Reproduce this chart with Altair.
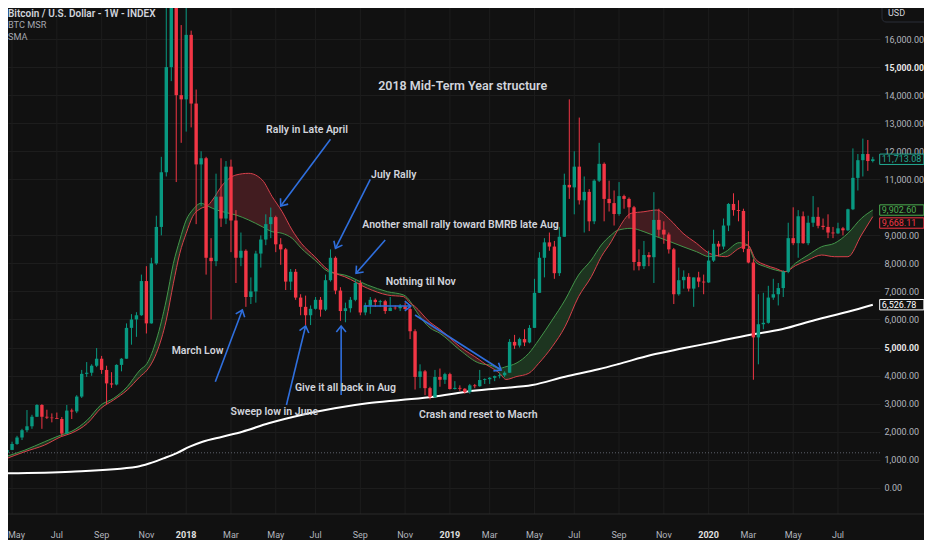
import math
import altair as alt
import pandas as pd

# ---------------- data ----------------
FIRST_WEEK = "2017-04-24"   # weekly candles, Monday open

opens = (
    [1250, 1348, 1560, 1790, 2050, 2190, 2530, 2950, 2530, 2500, 2480, 2450, 1930, 2750, 2720, 3250, 4060, 4100,
     4350, 4600, 4200, 3720, 3680, 4380, 4600, 5700, 6000, 6150, 7370, 5860, 8000, 9300, 11250, 15000, 19100, 14000]
    + [13850, 16150, 13700, 11530, 11750, 8200, 8080, 10380, 9600, 11450, 9530, 8200, 8450,
       6800, 7000, 8350, 8850, 9400, 9650, 8680, 8500, 7350, 7700, 6780, 6450, 6150,
       6380, 6700, 6350, 7400, 8200, 7030, 6300, 6400, 6700, 7300, 6250, 6500, 6700,
       6620, 6650, 6300, 6420, 6400, 6470, 6370, 5580, 3950, 4150, 3550, 3230, 3950, 3850]
    + [4050, 3520, 3560, 3530, 3410, 3650, 3620, 3840, 3870, 3920, 3980, 4010,
       4100, 5200, 5070, 5300, 5180, 5700, 6950, 8200, 8750, 8600, 7650, 8950, 10800,
       10710, 11450, 10250, 10550, 9500, 10950, 11550, 10300, 10150, 9760, 10400, 10300, 10000, 8050,
       7900, 8300, 8220, 9550, 9200, 9030, 8500, 6900, 7400, 7520, 7100, 7500, 7350]
    + [7320, 8100, 8700, 8600, 9350, 10120, 9900, 9870, 8520, 8030, 5360, 5830, 5880,
       6780, 6900, 7120, 7700, 8900, 8720, 9680, 8720, 9450, 9660, 9340, 9300, 9100,
       9070, 9250, 9180, 9930, 11050, 11680, 11900, 11650]
)
highs = (
    [1350, 1640, 1850, 2100, 2770, 2600, 2980, 2980, 2780, 2650, 2680, 2520, 2950, 2820, 3300, 4200, 4480, 4400,
     4980, 4700, 4350, 4120, 4400, 4620, 5860, 6190, 6260, 7600, 7900, 8200, 9700, 11800, 17200, 19800, 19200, 16500]
    + [17250, 16300, 14200, 12000, 11800, 8900, 11200, 11750, 11650, 11700, 9900, 9100, 8500,
       7500, 8450, 9000, 9750, 9990, 9700, 8900, 8550, 7800, 7800, 6900, 6850, 6500,
       6800, 6800, 7600, 8500, 8250, 7150, 6600, 6800, 7400, 7400, 6600, 6800, 6750,
       6700, 6700, 6800, 6500, 6550, 6600, 6500, 5650, 4400, 4200, 3600, 4200, 4250, 4100]
    + [4100, 3800, 3650, 3550, 3700, 3700, 4200, 3900, 3950, 4000, 4100, 4150,
       5300, 5450, 5350, 5650, 5800, 7450, 8400, 8900, 9100, 8800, 9300, 11200, 13850,
       12000, 13200, 11100, 10650, 11000, 12300, 11600, 10950, 10600, 10900, 10450, 10350, 10050, 8500,
       8800, 8400, 10540, 9950, 9500, 9100, 8550, 7850, 7750, 7650, 7500, 7700, 7600]
    + [8450, 9200, 8800, 9600, 10150, 10500, 10250, 9950, 9150, 8150, 6900, 6950, 7200,
       7450, 7300, 7750, 9450, 10000, 9900, 9850, 9700, 10400, 10000, 9600, 9750, 9300,
       9450, 9300, 9950, 12100, 11900, 12450, 12400, 11800]
)
lows = (
    [1200, 1340, 1530, 1700, 1980, 2100, 2520, 2100, 2450, 2330, 2470, 1840, 1930, 2450, 2660, 3200, 3950, 3990,
     4300, 4060, 2980, 3560, 3650, 4150, 4600, 5100, 5380, 6130, 5500, 5850, 7950, 9000, 11100, 14500, 10900, 12300]
    + [12700, 12850, 9400, 10050, 7600, 6000, 7900, 9300, 9400, 8400, 7300, 7900, 6450,
       6550, 6600, 7850, 8650, 8900, 8400, 7950, 7050, 7050, 6700, 6150, 5800, 5800,
       6350, 6100, 6300, 7350, 6900, 5950, 5900, 6250, 6650, 6150, 6150, 6200, 6450,
       6450, 6200, 6300, 6350, 6300, 6350, 5300, 3500, 3550, 3300, 3150, 3200, 3600, 3700]
    + [3500, 3500, 3450, 3350, 3350, 3550, 3600, 3700, 3700, 3800, 3900, 3950,
       4100, 4950, 5000, 5050, 5150, 5700, 6950, 7500, 8450, 7450, 7550, 8950, 10300,
       9750, 10100, 9100, 9150, 9400, 10900, 9500, 9850, 9350, 9700, 9950, 9600, 7750, 7750,
       7800, 7900, 7300, 8950, 8700, 8350, 6550, 6850, 7100, 7000, 6450, 7150, 6900]
    + [7300, 8050, 8250, 8500, 9150, 9700, 9500, 8400, 8000, 3850, 4400, 5650, 5850,
       6700, 6500, 6800, 7650, 8650, 8200, 8700, 8650, 9300, 9250, 9200, 8900, 8900,
       9050, 9000, 9150, 9900, 10600, 11100, 11300, 11600]
)
closes = (
    [1348, 1560, 1790, 2050, 2190, 2530, 2950, 2530, 2500, 2480, 2450, 1930, 2750, 2720, 3250, 4060, 4100, 4350,
     4600, 4200, 3720, 3680, 4380, 4600, 5700, 6000, 6150, 7370, 5860, 8000, 9300, 11250, 15000, 19100, 14000, 13850]
    + [16150, 13700, 11530, 11750, 8200, 8080, 10380, 9600, 11450, 9530, 8200, 8450, 6800,
       7000, 8350, 8850, 9400, 9650, 8680, 8500, 7350, 7700, 6780, 6450, 6150, 6380,
       6700, 6350, 7400, 8200, 7030, 6300, 6400, 6700, 7300, 6250, 6500, 6700, 6620,
       6650, 6300, 6420, 6400, 6470, 6370, 5580, 3950, 4150, 3550, 3230, 3950, 3850, 4050]
    + [3520, 3560, 3530, 3410, 3650, 3620, 3840, 3870, 3920, 3980, 4010, 4100,
       5200, 5070, 5300, 5180, 5700, 6950, 8200, 8750, 8600, 7650, 8950, 10800, 10710,
       11450, 10250, 10550, 9500, 10950, 11550, 10300, 10150, 9760, 10400, 10300, 10000, 8050, 7900,
       8300, 8220, 9550, 9200, 9030, 8500, 6900, 7400, 7520, 7100, 7500, 7350, 7320]
    + [8100, 8700, 8600, 9350, 10120, 9900, 9870, 8520, 8030, 5360, 5830, 5880, 6780,
       6900, 7120, 7700, 8900, 8720, 9680, 8720, 9450, 9660, 9340, 9300, 9100, 9070,
       9250, 9180, 9930, 11050, 11680, 11900, 11650, 11713.08]
)

# BTC MSR band (green = 21W EMA, red = 20W SMA)
band_dates = [
    "2017-04-21", "2017-05-19", "2017-06-16", "2017-07-09", "2017-07-23", "2017-08-15", "2017-09-03",
    "2017-09-21", "2017-10-10", "2017-10-28", "2017-11-07", "2017-11-20", "2017-12-04", "2017-12-14",
    "2017-12-23", "2018-01-01", "2018-01-10", "2018-01-22", "2018-01-31", "2018-02-07", "2018-02-21",
    "2018-03-12", "2018-03-30", "2018-04-18", "2018-05-02", "2018-05-16", "2018-05-30", "2018-06-12",
    "2018-07-01", "2018-07-20", "2018-07-29", "2018-08-12", "2018-09-13", "2018-10-11", "2018-11-03",
    "2018-11-12", "2018-11-18", "2018-12-10", "2018-12-24", "2019-01-21", "2019-02-18", "2019-02-27",
    "2019-03-04", "2019-03-18", "2019-03-27", "2019-04-10", "2019-04-28", "2019-05-12", "2019-05-31",
    "2019-06-18", "2019-07-07", "2019-07-25", "2019-08-08", "2019-08-22", "2019-08-31", "2019-09-19",
    "2019-10-07", "2019-10-25", "2019-11-13", "2019-12-01", "2019-12-20", "2020-01-07", "2020-01-18",
    "2020-01-30", "2020-02-18", "2020-03-01", "2020-03-12", "2020-03-26", "2020-04-09", "2020-04-23",
    "2020-05-07", "2020-05-25", "2020-06-13", "2020-07-01", "2020-07-20", "2020-08-08", "2020-08-24",
]
band_green = [
    1100, 1340, 1640, 1880, 2000, 2415, 2950,
    3188, 3600, 4197, 4435, 5267, 6694, 8000,
    8834, 9547, 9904, 10143, 10050, 9964, 9843,
    9726, 9547, 9308, 9130, 9073, 8894, 8538,
    8120, 7704, 7646, 7585, 7229, 6990, 6872,
    6650, 6400, 5700, 5506, 4911, 4436, 4390,
    4376, 4258, 4316, 4436, 4793, 5267, 5981,
    6694, 7585, 8120, 8655, 9012, 9180, 9250,
    9130, 8952, 8773, 8595, 8417, 8238, 8274,
    8417, 8738, 8655, 8050, 7882, 7764, 7704,
    8002, 8299, 8595, 8716, 9073, 9607, 9902.60,
]
band_red = [
    1020, 1285, 1523, 1820, 1940, 2297, 2830,
    3130, 3484, 3959, 4197, 4790, 5981, 7290,
    8360, 9073, 9665, 9964, 10050, 10260, 10795,
    11152, 11212, 10973, 10378, 9843, 9190, 8716,
    8238, 7764, 7646, 7525, 7111, 6872, 6812,
    6590, 6480, 5900, 5650, 5030, 4554, 4390,
    4316, 4080, 3860, 3959, 4080, 4436, 5030,
    5742, 6812, 7525, 8238, 8773, 9180, 9786,
    9843, 9904, 9547, 9073, 8716, 8360, 8274,
    8238, 8538, 8655, 8150, 7942, 7824, 7704,
    7917, 8120, 8299, 8238, 8238, 9012, 9668.11,
]

# SMA (white line)
sma_dates = [
    "2017-04-21", "2017-07-23", "2017-10-24", "2017-11-11", "2017-11-30", "2017-12-18", "2018-01-06",
    "2018-01-24", "2018-02-21", "2018-03-21", "2018-04-27", "2018-06-12", "2018-07-29", "2018-09-13",
    "2018-10-30", "2018-12-15", "2019-01-30", "2019-03-18", "2019-05-03", "2019-06-18", "2019-08-04",
    "2019-08-31", "2019-10-17", "2019-12-01", "2020-01-17", "2020-03-03", "2020-04-18", "2020-06-04",
    "2020-07-20", "2020-08-24",
]
sma_values = [
    513, 571, 749, 870, 1048, 1227, 1462,
    1640, 1819, 1997, 2297, 2593, 2831, 3010,
    3128, 3245, 3424, 3545, 3663, 3959, 4222,
    4400, 4733, 4970, 5207, 5446, 5649, 5981,
    6277, 6526.78,
]

dotted_level = [1245]

# price-scale labels (10,000 sits under the 9,902.60 tag)
y_ticks = [v for v in range(0, 17000, 1000) if v != 10000]
tag_values = [11713.08, 9902.60, 9668.11, 6526.78]
tag_labels = ["11,713.08", "9,902.60", "9,668.11", "6,526.78"]

# time-scale labels
month_dates = ["2017-05-01", "2017-07-03", "2017-09-04", "2017-11-06", "2018-01-01", "2018-03-05", "2018-05-07",
               "2018-07-02", "2018-09-03", "2018-11-05", "2019-01-07", "2019-03-04", "2019-05-06", "2019-07-01",
               "2019-09-02", "2019-11-04", "2020-01-06", "2020-03-02", "2020-05-04", "2020-07-06"]
month_labels = ["May", "Jul", "Sep", "Nov", "2018", "Mar", "May", "Jul", "Sep", "Nov", "2019", "Mar", "May",
                "Jul", "Sep", "Nov", "2020", "Mar", "May", "Jul"]

# annotations (anchored in date / price)
note_texts = ["Rally in Late April", "July Rally", "Another small rally toward BMRB late Aug", "Nothing til Nov",
              "March Low", "Give it all back in Aug", "Sweep low in June", "Crash and reset to Macrh"]
note_dates = ["2018-06-20", "2018-10-20", "2019-01-22", "2018-11-27", "2018-01-17", "2018-08-13", "2018-05-05",
              "2019-02-16"]
note_values = [12746, 11152, 9369, 7340, 4875, 3545, 2689, 2593]
title_text = ["2018 Mid-Term Year structure"]
title_date = ["2019-01-25"]
title_value = [14326]

arrow_from_dates = ["2018-07-23", "2018-09-17", "2018-10-08", "2018-09-08", "2018-11-19", "2018-02-11",
                    "2018-05-22", "2018-08-07"]
arrow_from_values = [12425, 10999, 8834, 6480, 6159, 3780, 2949, 3306]
arrow_to_dates = ["2018-05-14", "2018-07-30", "2018-08-28", "2018-11-13", "2019-03-20", "2018-03-21",
                  "2018-06-18", "2018-08-07"]
arrow_to_values = [10046, 8538, 7646, 6480, 4198, 6337, 5767, 5767]

legend_lines = ["Bitcoin / U.S. Dollar - 1W - INDEX", "BTC MSR", "SMA"]

# ---------------- styling ----------------
FONT = "Roboto"
BG = "#111111"
GRID = "#1d1d1d"
UP = "#089981"
DOWN = "#f23645"
G_LINE = "#43964a"
R_LINE = "#d8404b"
G_FILL = "#1d3520"
R_FILL = "#421c20"
ARROW = "#2f6fde"
TXT = "#d1d4dc"
AX_TXT = "#b2b5be"
AX_SIZE = 9

W, H = 872, 506
X_START = pd.Timestamp("2017-05-02 08:00")
X_END = pd.Timestamp("2020-08-27 02:00")
X_SCALE = alt.Scale(domain=[alt.DateTime(year=2017, month=5, date=2, hours=8),
                            alt.DateTime(year=2020, month=8, date=27, hours=2)], nice=False)
Y_MIN, Y_MAX = -938, 17108
Y_SCALE = alt.Scale(domain=[Y_MIN, Y_MAX], nice=False, zero=False)
PX_PER_DAY = W / ((X_END - X_START).total_seconds() / 86400)
PX_PER_VAL = H / (Y_MAX - Y_MIN)

cond = "datum.value == 5000 || datum.value == 15000"
Y_AXIS = alt.Axis(
    orient="right", values=y_ticks, format=",.2f", title=None, domain=False, ticks=False,
    labelPadding=4, labelFont=FONT, labelFlush=False, labelOverlap=False,
    labelFontSize={"condition": {"test": cond, "value": 8.7}, "value": AX_SIZE},
    labelColor={"condition": {"test": cond, "value": "#e8e8e8"}, "value": AX_TXT},
    labelFontWeight={"condition": {"test": cond, "value": "bold"}, "value": "normal"},
    grid=True, gridColor=GRID, gridWidth=1,
)


def X(field):
    return alt.X(field, type="temporal", scale=X_SCALE, axis=None)


def Y(field):
    return alt.Y(field, type="quantitative", scale=Y_SCALE, axis=Y_AXIS)


# ---------------- tables ----------------
candles = pd.DataFrame({
    "date": pd.date_range(FIRST_WEEK, periods=len(closes), freq="7D"),
    "open": opens, "high": highs, "low": lows, "close": closes,
})
bands = pd.DataFrame({"date": pd.to_datetime(band_dates), "g": band_green, "r": band_red})
sma = pd.DataFrame({"date": pd.to_datetime(sma_dates), "v": sma_values})
months = pd.DataFrame({"date": pd.to_datetime(month_dates), "label": month_labels})
is_year = months["label"].str.match(r"^\d{4}$")
is_first = months.index == 0
notes = pd.DataFrame({"date": pd.to_datetime(note_dates), "v": note_values, "text": note_texts})
title_df = pd.DataFrame({"date": pd.to_datetime(title_date), "v": title_value, "text": title_text})
arrows = pd.DataFrame({
    "t0": pd.to_datetime(arrow_from_dates), "v0": arrow_from_values,
    "t1": pd.to_datetime(arrow_to_dates), "v1": arrow_to_values,
})
angles = []
for a in arrows.itertuples():
    dx = (a.t1 - a.t0).total_seconds() / 86400 * PX_PER_DAY
    dy = -(a.v1 - a.v0) * PX_PER_VAL
    angles.append(math.degrees(math.atan2(dy, dx)) % 360)
arrows["ang"] = angles

# ---------------- layers ----------------
vgrid = alt.Chart(months).mark_rule(color=GRID, strokeWidth=1).encode(x=X("date"))

dotted = alt.Chart(pd.DataFrame({"v": dotted_level})).mark_rule(
    color="#5d606b", strokeDash=[1, 2], strokeWidth=1
).encode(y=Y("v"))

band_base = alt.Chart(bands).transform_calculate(top="max(datum.g, datum.r)")
g_fill = band_base.mark_area(color=G_FILL, interpolate="monotone", clip=True).encode(
    x=X("date"), y=Y("r"), y2="top:Q")
r_fill = band_base.mark_area(color=R_FILL, interpolate="monotone", clip=True).encode(
    x=X("date"), y=Y("g"), y2="top:Q")
g_line = band_base.mark_line(color=G_LINE, strokeWidth=1, interpolate="monotone", clip=True).encode(
    x=X("date"), y=Y("g"))
r_line = band_base.mark_line(color=R_LINE, strokeWidth=1, interpolate="monotone", clip=True).encode(
    x=X("date"), y=Y("r"))

sma_line = alt.Chart(sma).mark_line(color="#ffffff", strokeWidth=2, interpolate="monotone", clip=True).encode(
    x=X("date"), y=Y("v"))

cbase = alt.Chart(candles).transform_calculate(dir="datum.close >= datum.open ? 'up' : 'down'")
ccolor = alt.Color("dir:N", scale=alt.Scale(domain=["up", "down"], range=[UP, DOWN]), legend=None)
wicks = cbase.mark_rule(strokeWidth=1, clip=True).encode(x=X("date"), y=Y("low"), y2="high:Q", color=ccolor)
bodies = cbase.mark_bar(size=3.4, clip=True).encode(x=X("date"), y=Y("open"), y2="close:Q", color=ccolor)

shafts = alt.Chart(arrows).mark_rule(color=ARROW, strokeWidth=1.6).encode(
    x=X("t0"), x2="t1:T", y=Y("v0"), y2="v1:Q")
heads = alt.Chart(arrows).mark_point(
    shape="M-1,-0.8L0,0L-1,0.8", filled=False, size=144, strokeWidth=1.6, color=ARROW, opacity=1
).encode(x=X("t1"), y=Y("v1"), angle=alt.Angle("ang:Q", scale=None))

note_layer = alt.Chart(notes).mark_text(
    font=FONT, fontSize=10.5, fontWeight=600, color=TXT, align="center", baseline="middle"
).encode(x=X("date"), y=Y("v"), text="text:N")
title_layer = alt.Chart(title_df).mark_text(
    font=FONT, fontSize=12.5, fontWeight=600, color=TXT, align="center", baseline="middle"
).encode(x=X("date"), y=Y("v"), text="text:N")

first_month = alt.Chart(months[is_first]).mark_text(
    font=FONT, fontSize=AX_SIZE, baseline="middle", align="left", color=AX_TXT
).encode(x=alt.value(0), y=alt.value(527), text="label:N")
month_layer = alt.Chart(months[~is_year & ~is_first]).mark_text(
    font=FONT, fontSize=AX_SIZE, baseline="middle", align="center", color=AX_TXT
).encode(x=X("date"), y=alt.value(527), text="label:N")
year_layer = alt.Chart(months[is_year]).mark_text(
    font=FONT, fontSize=AX_SIZE, fontWeight="bold", baseline="middle", align="center", color="#e0e0e0"
).encode(x=X("date"), y=alt.value(527), text="label:N")

bottom_line = alt.Chart(pd.DataFrame({"k": [0]})).mark_rule(color="#2a2a2a", strokeWidth=1).encode(
    x=alt.value(-8), x2=alt.value(W + 44), y=alt.value(H))

legend_layers = []
for line, ypos, col, wt, fs in zip(legend_lines, [5.5, 16.8, 29], [TXT, "#a3a6af", "#a3a6af"],
                                   [600, 400, 400], [10, 9.2, 9.2]):
    legend_layers.append(alt.Chart(pd.DataFrame({"text": [line]})).mark_text(
        font=FONT, fontSize=fs, fontWeight=wt, align="left", baseline="middle", color=col
    ).encode(x=alt.value(0), y=alt.value(ypos), text="text:N"))

usd_df = pd.DataFrame({"text": ["USD"]})
usd_box = alt.Chart(usd_df).mark_rect(fill=BG, stroke="#2a2e39", strokeWidth=1, cornerRadius=4).encode(
    x=alt.value(874), x2=alt.value(921), y=alt.value(-5), y2=alt.value(14))
usd_text = alt.Chart(usd_df).mark_text(font=FONT, fontSize=AX_SIZE, color=TXT, align="left", baseline="middle").encode(
    x=alt.value(880), y=alt.value(5), text="text:N")

tag_colors = ["#22ab94", "#4caf50", "#f23645", "#ffffff"]
tag_shift = [0, 0, 6.4, 0]
tag_layers = []
for val, lab, col, sh in zip(tag_values, tag_labels, tag_colors, tag_shift):
    tdf = pd.DataFrame({"v": [val], "label": [lab]})
    tag_layers.append(alt.Chart(tdf).mark_point(
        shape="M0,-1H8.5V1H0Z", size=108, filled=True, fill=BG, stroke=col, strokeWidth=1, opacity=1, yOffset=sh
    ).encode(x=alt.value(871.7), y=Y("v")))
    tag_layers.append(alt.Chart(tdf).mark_text(
        font=FONT, fontSize=AX_SIZE, color=col, align="left", baseline="middle", dy=sh
    ).encode(x=alt.value(873.8), y=Y("v"), text="label:N"))

chart = alt.layer(
    vgrid, dotted, g_fill, r_fill, g_line, r_line, sma_line, wicks, bodies,
    shafts, heads, note_layer, title_layer, first_month, month_layer, year_layer, bottom_line,
    *legend_layers, usd_box, usd_text,
    *tag_layers,
).properties(
    width=W, height=H, background=BG,
    padding={"left": 0, "top": 0, "right": 44, "bottom": 26},
    autosize=alt.AutoSizeParams(type="none"),
).configure_view(stroke=None)

chart.save("out.html", embed_options={"renderer": "svg", "actions": False})
